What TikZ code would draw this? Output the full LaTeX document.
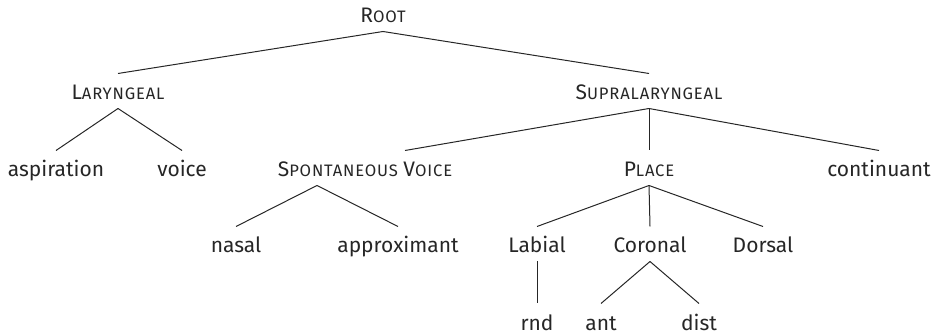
\documentclass[tikz,border=0pt]{standalone}
\usepackage{fontspec}
\setmainfont{Fira Sans}
\usepackage{tikz}
\usetikzlibrary{positioning,calc}
\newcommand{\fsc}[2]{#1{\fontsize{8.3}{10}\selectfont\addfontfeature{LetterSpace=5}\uppercase{#2}}}

\begin{document}
\begin{tikzpicture}[x=0.5pt,y=-0.5pt,line width=0.5pt,draw=black!85,
  feat/.style={inner sep=0pt,text height=13pt,text depth=4pt,anchor=base,
    font=\fontsize{10.5}{12}\selectfont,text=black!85}]
\useasboundingbox (0,0) rectangle (945,335);
% The nodes
\node[feat] (root) at (383,23) {\fsc{R}{oot}};
\node[feat] (lar) at (118,100) {\fsc{L}{aryngeal}};
\node[feat] (supra) at (649,100) {\fsc{S}{upralaryngeal}};
\node[feat] (asp) at (56,177) {aspiration};
\node[feat] (voice) at (182,177) {voice};
\node[feat] (sv) at (365,177) {\fsc{S}{pontaneous} \fsc{V}{oice}};
\node[feat] (place) at (649,177) {\fsc{P}{lace}};
\node[feat] (cont) at (879,177) {continuant};
\node[feat] (nasal) at (236,253) {nasal};
\node[feat] (approx) at (398,253) {approximant};
\node[feat] (lab) at (537,253) {Labial};
\node[feat] (cor) at (650,253) {Coronal};
\node[feat] (dor) at (763,253) {Dorsal};
\node[feat] (rnd) at (537,330) {rnd};
\node[feat] (ant) at (601,330) {ant};
\node[feat] (dist) at (699,330) {dist};
% The branches
\draw (root.south) -- (lar.north);
\draw (root.south) -- (supra.north);
\draw (lar.south) -- (asp.north);
\draw (lar.south) -- (voice.north);
\draw (supra.south) -- ([xshift=20pt]sv.north);
\draw (supra.south) -- (place.north);
\draw (supra.south) -- (cont.north);
\draw ([xshift=-24pt]sv.south) -- (nasal.north);
\draw ([xshift=-24pt]sv.south) -- (approx.north);
\draw (place.south) -- (lab.north);
\draw (place.south) -- (cor.north);
\draw (place.south) -- (dor.north);
\draw (lab.south) -- (rnd.north);
\draw (cor.south) -- (ant.north);
\draw (cor.south) -- (dist.north);
\end{tikzpicture}
\end{document}
